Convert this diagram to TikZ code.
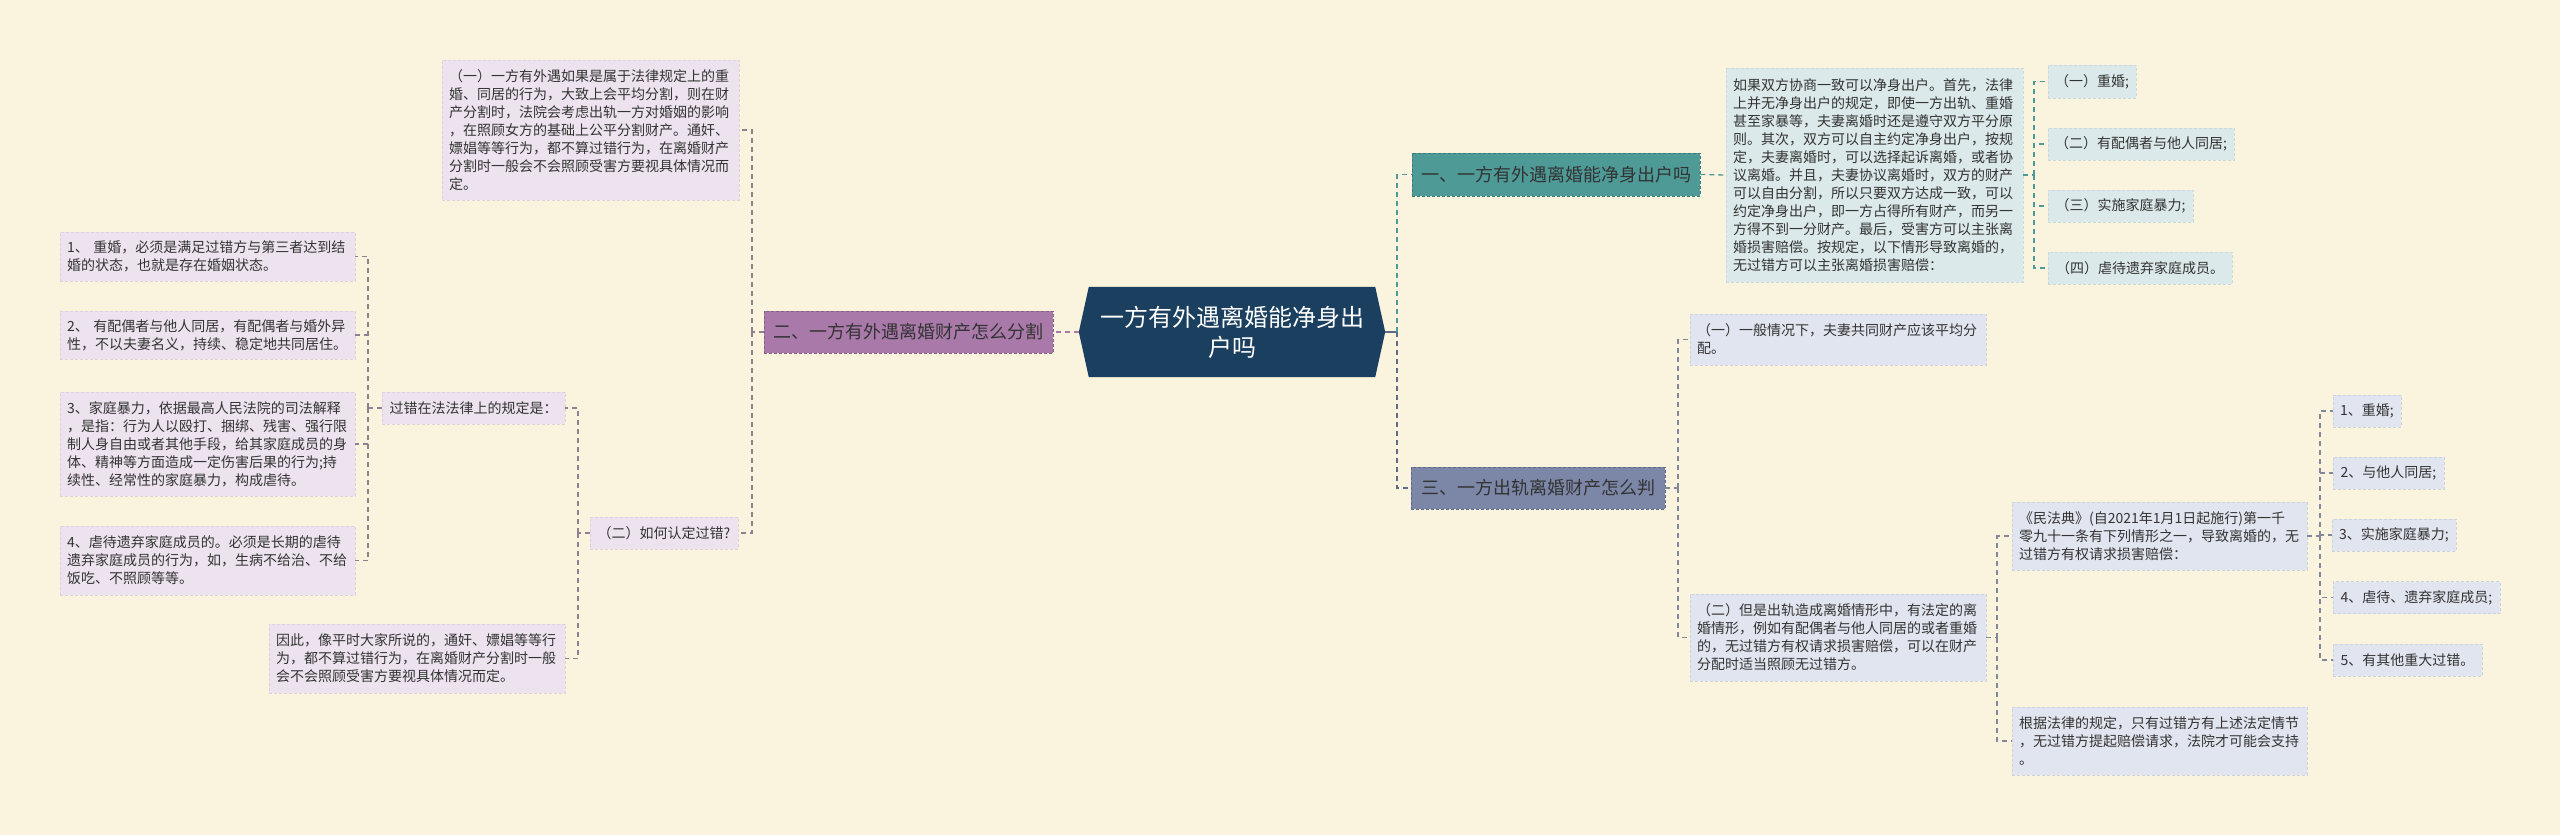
\documentclass[tikz,border=0pt]{standalone}
\usepackage{fontspec}
\setmainfont{Noto Sans CJK SC}
\usetikzlibrary{backgrounds}
\definecolor{bgc}{HTML}{FAF4DE}
\definecolor{rootc}{HTML}{1B3F5E}
\definecolor{tealc}{HTML}{4E9A97}
\definecolor{tealcd}{HTML}{3A7C79}
\definecolor{purc}{HTML}{A97AA9}
\definecolor{purcd}{HTML}{8A5E8A}
\definecolor{slatec}{HTML}{7C87A7}
\definecolor{slatecd}{HTML}{5F6A88}
\definecolor{leafLc}{HTML}{ECE3EE}
\definecolor{leafLd}{HTML}{DDD0DF}
\definecolor{leafTc}{HTML}{DCE9EA}
\definecolor{leafTd}{HTML}{C8DADB}
\definecolor{leafSc}{HTML}{E1E5EF}
\definecolor{leafSd}{HTML}{CDD2DF}
\definecolor{connL}{HTML}{8E808E}
\definecolor{connS}{HTML}{80889A}
\definecolor{txt}{HTML}{333333}
\begin{document}
\begin{tikzpicture}[x=1pt,y=-1pt,
  box/.style={rectangle, inner xsep=7pt, inner ysep=0pt, align=left,
    font=\fontsize{14}{18}\selectfont, text=txt, dash pattern=on 3pt off 2pt, line width=0.6pt},
  leafL/.style={box, fill=leafLc, draw=leafLd},
  leafT/.style={box, fill=leafTc, draw=leafTd},
  leafS/.style={box, fill=leafSc, draw=leafSd},
  branch/.style={rectangle, inner sep=0pt, font=\fontsize{18}{22}\selectfont, text=txt,
    dash pattern=on 3pt off 2pt, line width=0.8pt},
  conn/.style={dash pattern=on 5pt off 4pt, line width=1.3pt},
  rootn/.style={rectangle, inner sep=0pt, align=center, text=white,
    font=\fontsize{24}{30}\selectfont},
]
\begin{pgfonlayer}{background}
\fill[bgc] (0,0) rectangle (2560,835);
\end{pgfonlayer}
\useasboundingbox (0,0) rectangle (2560,835);

% ---------- root ----------
\node[rootn, minimum width=306, minimum height=90] (root) at (1232,332)
  {一方有外遇离婚能净身出\\户吗};
\begin{pgfonlayer}{background}
\fill[rootc] (root.west) -- ([xshift=10pt]root.north west) -- ([xshift=-10pt]root.north east)
  -- (root.east) -- ([xshift=-10pt]root.south east) -- ([xshift=10pt]root.south west) -- cycle;
\end{pgfonlayer}

% ---------- branches ----------
\node[branch, fill=tealc, draw=tealcd, minimum width=288, minimum height=43] (b1) at (1556,174.5)
  {一、一方有外遇离婚能净身出户吗};
\node[branch, fill=purc, draw=purcd, minimum width=289, minimum height=42] (b2) at (908.5,332)
  {二、一方有外遇离婚财产怎么分割};
\node[branch, fill=slatec, draw=slatecd, minimum width=254, minimum height=42] (b3) at (1538,488)
  {三、一方出轨离婚财产怎么判};

% ---------- left side ----------
\node[leafL, text width=283, minimum height=140] (lyi) at (590.5,130)
  {（一）一方有外遇如果是属于法律规定上的重\\婚、同居的行为，大致上会平均分割，则在财\\产分割时，法院会考虑出轨一方对婚姻的影响\\，在照顾女方的基础上公平分割财产。通奸、\\嫖娼等等行为，都不算过错行为，在离婚财产\\分割时一般会不会照顾受害方要视具体情况而\\定。};
\node[leafL, minimum width=148, minimum height=32] (lru) at (664,533)
  {（二）如何认定过错?};
\node[leafL, minimum width=183, minimum height=32] (lguo) at (473.5,408)
  {过错在法法律上的规定是：};
\node[leafL, text width=282, minimum height=69] (lyin) at (417,658.5)
  {因此，像平时大家所说的，通奸、嫖娼等等行\\为，都不算过错行为，在离婚财产分割时一般\\会不会照顾受害方要视具体情况而定。};
\node[leafL, text width=281, minimum height=49] (l1) at (207.5,256.5)
  {1、 重婚，必须是满足过错方与第三者达到结\\婚的状态，也就是存在婚姻状态。};
\node[leafL, text width=281, minimum height=48] (l2) at (207.5,335)
  {2、 有配偶者与他人同居，有配偶者与婚外异\\性，不以夫妻名义，持续、稳定地共同居住。};
\node[leafL, text width=281, minimum height=104] (l3) at (207.5,444)
  {3、家庭暴力，依据最高人民法院的司法解释\\，是指：行为人以殴打、捆绑、残害、强行限\\制人身自由或者其他手段，给其家庭成员的身\\体、精神等方面造成一定伤害后果的行为;持\\续性、经常性的家庭暴力，构成虐待。};
\node[leafL, text width=281, minimum height=69] (l4) at (207.5,560.5)
  {4、虐待遗弃家庭成员的。必须是长期的虐待\\遗弃家庭成员的行为，如，生病不给治、不给\\饭吃、不照顾等等。};

% ---------- right upper ----------
\node[leafT, text width=283, minimum height=214] (rt) at (1874.5,175)
  {如果双方协商一致可以净身出户。首先，法律\\上并无净身出户的规定，即使一方出轨、重婚\\甚至家暴等，夫妻离婚时还是遵守双方平分原\\则。其次，双方可以自主约定净身出户，按规\\定，夫妻离婚时，可以选择起诉离婚，或者协\\议离婚。并且，夫妻协议离婚时，双方的财产\\可以自由分割，所以只要双方达成一致，可以\\约定净身出户，即一方占得所有财产，而另一\\方得不到一分财产。最后，受害方可以主张离\\婚损害赔偿。按规定，以下情形导致离婚的，\\无过错方可以主张离婚损害赔偿：};
\node[leafT, minimum width=88, minimum height=33] (s1) at (2092,81.5) {（一）重婚;};
\node[leafT, minimum width=186, minimum height=32] (s2) at (2141,144) {（二）有配偶者与他人同居;};
\node[leafT, minimum width=145, minimum height=32] (s3) at (2120.5,206) {（三）实施家庭暴力;};
\node[leafT, minimum width=184, minimum height=32] (s4) at (2140,268) {（四）虐待遗弃家庭成员。};

% ---------- right lower ----------
\node[leafS, text width=282, minimum height=51] (c1) at (1838,339.5)
  {（一）一般情况下，夫妻共同财产应该平均分\\配。};
\node[leafS, text width=282, minimum height=87] (c2) at (1838,637.5)
  {（二）但是出轨造成离婚情形中，有法定的离\\婚情形，例如有配偶者与他人同居的或者重婚\\的，无过错方有权请求损害赔偿，可以在财产\\分配时适当照顾无过错方。};
\node[leafS, text width=281, minimum height=68] (m1) at (2159.5,536)
  {《民法典》(自2021年1月1日起施行)第一千\\零九十一条有下列情形之一，导致离婚的，无\\过错方有权请求损害赔偿：};
\node[leafS, text width=281, minimum height=68] (m2) at (2159.5,741)
  {根据法律的规定，只有过错方有上述法定情节\\，无过错方提起赔偿请求，法院才可能会支持\\。};
\node[leafS, minimum width=68, minimum height=32] (i1) at (2367,411) {1、重婚;};
\node[leafS, minimum width=111, minimum height=32] (i2) at (2388.5,473) {2、与他人同居;};
\node[leafS, minimum width=122, minimum height=32] (i3) at (2394,535) {3、实施家庭暴力;};
\node[leafS, minimum width=167, minimum height=32] (i4) at (2416.5,597.5) {4、虐待、遗弃家庭成员;};
\node[leafS, minimum width=149, minimum height=32] (i5) at (2407.5,660) {5、有其他重大过错。};

% ---------- junction coordinates ----------
\coordinate (jR) at (1397,332);
\coordinate (jL) at (752,332);
\coordinate (jRu) at (2034,175);
\coordinate (jRl) at (1678,488);
\coordinate (jC2) at (1997,637.5);
\coordinate (jM1) at (2320,536);
\coordinate (jRu2) at (578,533);
\coordinate (jG) at (368,408);

% ---------- connectors ----------
\draw[line width=1.5pt, color=slatecd] (root.east) -- (jR);
\draw[conn, tealc] (jR) |- (b1.west);
\draw[conn, slatecd] (jR) |- (b3.west);
\draw[conn, purc] (root.west) -- (b2.east);

\draw[conn, connL] (b2.west) -- (jL);
\draw[conn, connL] (jL) |- (lyi.east);
\draw[conn, connL] (jL) |- (lru.east);
\draw[conn, connL] (lru.west) -- (jRu2);
\draw[conn, connL] (jRu2) |- (lguo.east);
\draw[conn, connL] (jRu2) |- (lyin.east);
\draw[conn, connL] (lguo.west) -- (jG);
\draw[conn, connL] (jG) |- (l1.east);
\draw[conn, connL] (jG) |- (l2.east);
\draw[conn, connL] (jG) |- (l3.east);
\draw[conn, connL] (jG) |- (l4.east);

\draw[conn, tealc] (b1.east) -- (rt.west);
\draw[conn, tealc] (rt.east) -- (jRu);
\foreach \n in {s1,s2,s3,s4} \draw[conn, tealc] (jRu) |- (\n.west);

\draw[conn, connS] (b3.east) -- (jRl);
\draw[conn, connS] (jRl) |- (c1.west);
\draw[conn, connS] (jRl) |- (c2.west);
\draw[conn, connS] (c2.east) -- (jC2);
\draw[conn, connS] (jC2) |- (m1.west);
\draw[conn, connS] (jC2) |- (m2.west);
\draw[conn, connS] (m1.east) -- (jM1);
\foreach \n in {i1,i2,i3,i4,i5} \draw[conn, connS] (jM1) |- (\n.west);
\end{tikzpicture}
\end{document}
